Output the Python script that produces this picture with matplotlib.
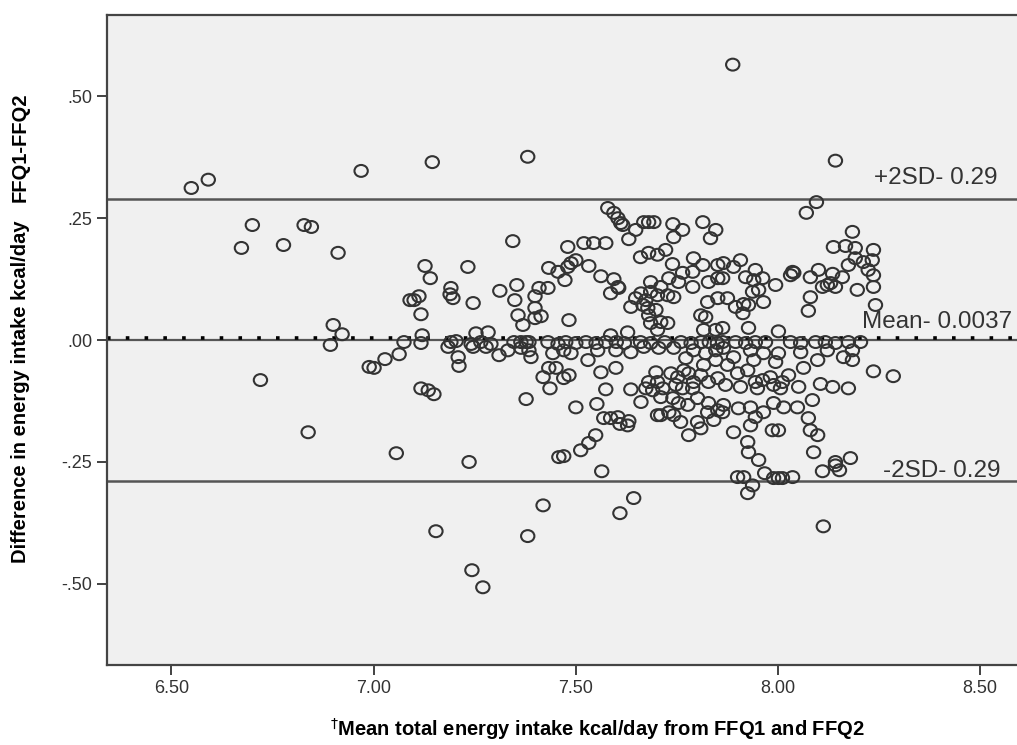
import matplotlib.pyplot as plt
import numpy as np
from matplotlib.path import Path
from matplotlib.transforms import Affine2D

# mean of the two FFQs (x) and their difference (y)
x_mean = [
    6.549, 6.591, 6.969, 6.700, 6.673, 6.777, 6.828, 6.846, 6.912, 7.090,
    6.900, 6.922, 6.893, 6.989, 7.001, 7.028, 7.063, 6.720, 6.838, 7.056,
    7.145, 7.381, 7.344,
    7.579, 7.594, 7.604, 7.611, 7.616, 7.648, 7.631, 7.668, 7.680, 7.693,
    7.740, 7.764, 7.742, 7.814, 7.846, 7.833, 7.480, 7.520, 7.544, 7.574,
    7.888, 8.142, 8.095, 8.070, 8.184, 8.137, 8.167, 8.191, 8.236,
    7.127, 7.140, 7.233, 7.100, 7.112, 7.191, 7.189, 7.196, 7.246, 7.117,
    7.312, 7.354, 7.349, 7.399, 7.409, 7.431, 7.433, 7.456, 7.399, 7.414,
    7.357, 7.369, 7.399, 7.120, 7.253, 7.283,
    7.500, 7.488, 7.480, 7.532, 7.473, 7.562, 7.594, 7.604, 7.586, 7.606,
    7.660, 7.680, 7.702, 7.722, 7.739, 7.685, 7.730, 7.764, 7.789, 7.791,
    7.814, 7.851, 7.754, 7.789, 7.828, 7.851, 7.826, 7.851, 7.636, 7.648,
    7.661, 7.673, 7.666, 7.678, 7.685, 7.702, 7.710, 7.727, 7.742, 7.680,
    7.698, 7.710, 7.727, 7.685, 7.702, 7.483, 7.809, 7.821, 7.816, 7.846,
    7.628, 7.586,
    7.865, 7.890, 7.907, 7.863, 7.920, 7.944, 7.940, 7.962, 7.937, 7.952,
    7.964, 7.875, 7.895, 7.915, 7.927, 7.913, 7.994, 8.031, 8.039, 8.036,
    8.080, 8.100, 8.110, 8.122, 8.130, 8.142, 8.135, 8.159, 8.080, 8.075,
    8.191, 8.174, 8.211, 8.233, 8.223, 8.236, 8.196, 8.236, 8.241, 7.927,
    8.001, 7.863,
    7.184, 7.209, 7.211, 7.246, 7.278, 7.310, 7.332, 7.364, 7.384, 7.389,
    7.443, 7.419, 7.433, 7.451, 7.436, 7.117, 7.135, 7.149, 7.377, 7.236,
    7.458,
    7.470, 7.488, 7.530, 7.554, 7.599, 7.636, 7.668, 7.705, 7.742, 7.772,
    7.791, 7.821, 7.846, 7.846, 7.470, 7.483, 7.562, 7.599, 7.574, 7.636,
    7.500, 7.552, 7.569, 7.586, 7.604, 7.609, 7.631, 7.628, 7.549, 7.532,
    7.512, 7.470, 7.673, 7.680, 7.698, 7.702, 7.715, 7.710, 7.690, 7.661,
    7.735, 7.752, 7.747, 7.767, 7.779, 7.791, 7.809, 7.816, 7.828, 7.851,
    7.740, 7.754, 7.764, 7.789, 7.801, 7.777, 7.702, 7.710, 7.730, 7.742,
    7.759, 7.801, 7.809, 7.779, 7.826, 7.841, 7.851, 7.828,
    7.865, 7.890, 7.875, 7.932, 7.964, 8.001, 7.994, 7.940, 7.925, 7.900,
    7.870, 7.907, 7.944, 7.962, 7.949, 7.981, 7.989, 8.011, 8.026, 8.006,
    8.051, 8.063, 8.056, 8.098, 8.122, 8.162, 8.184, 8.184, 8.236, 8.285,
    8.105, 8.135, 8.174, 8.085, 7.865, 7.863, 7.902, 7.932, 7.964, 7.989,
    8.014, 8.048, 7.944, 7.932, 7.890, 7.925, 7.927, 7.986, 8.001, 8.075,
    8.080, 8.098, 8.088, 7.952, 8.142, 8.179,
    7.564, 7.419, 7.643, 7.609, 7.154, 7.381, 7.243, 7.270, 7.900, 7.915,
    7.967, 7.937, 7.925, 7.989, 8.001, 8.011, 8.036, 8.110, 8.142, 8.152,
    8.112,
    # points sitting on the zero line
    7.075, 7.117, 7.191, 7.204, 7.241, 7.265, 7.290, 7.347, 7.364, 7.377,
    7.384, 7.431, 7.456, 7.475, 7.500, 7.525, 7.550, 7.574, 7.600, 7.620,
    7.660, 7.685, 7.720, 7.760, 7.785, 7.810, 7.830, 7.850, 7.863, 7.895,
    7.920, 7.944, 7.969, 8.031, 8.056, 8.093, 8.117, 8.142, 8.174, 8.204,
]
y_diff = [
    0.312, 0.329, 0.347, 0.236, 0.189, 0.195, 0.236, 0.232, 0.179, 0.082,
    0.031, 0.012, -0.010, -0.055, -0.057, -0.039, -0.029, -0.082, -0.189, -0.232,
    0.365, 0.376, 0.203,
    0.271, 0.261, 0.250, 0.240, 0.236, 0.226, 0.207, 0.242, 0.242, 0.242,
    0.238, 0.226, 0.211, 0.242, 0.226, 0.209, 0.191, 0.199, 0.199, 0.199,
    0.565, 0.368, 0.283, 0.261, 0.222, 0.191, 0.193, 0.189, 0.185,
    0.152, 0.127, 0.150, 0.082, 0.090, 0.107, 0.094, 0.086, 0.076, 0.053,
    0.101, 0.113, 0.082, 0.090, 0.107, 0.107, 0.148, 0.140, 0.066, 0.049,
    0.051, 0.031, 0.045, 0.010, 0.014, 0.016,
    0.164, 0.158, 0.150, 0.152, 0.123, 0.131, 0.125, 0.109, 0.096, 0.107,
    0.170, 0.179, 0.175, 0.185, 0.156, 0.119, 0.127, 0.138, 0.140, 0.168,
    0.154, 0.154, 0.119, 0.109, 0.119, 0.127, 0.078, 0.086, 0.068, 0.086,
    0.096, 0.082, 0.072, 0.066, 0.099, 0.092, 0.109, 0.092, 0.088, 0.051,
    0.062, 0.037, 0.035, 0.035, 0.021, 0.041, 0.051, 0.047, 0.021, 0.021,
    0.016, 0.010,
    0.158, 0.150, 0.164, 0.127, 0.129, 0.144, 0.123, 0.127, 0.099, 0.103,
    0.078, 0.086, 0.068, 0.074, 0.072, 0.055, 0.113, 0.133, 0.138, 0.140,
    0.129, 0.144, 0.109, 0.113, 0.117, 0.109, 0.136, 0.129, 0.088, 0.060,
    0.168, 0.154, 0.160, 0.164, 0.144, 0.133, 0.103, 0.109, 0.072, 0.025,
    0.018, 0.025,
    -0.014, -0.035, -0.053, -0.014, -0.014, -0.031, -0.021, -0.016, -0.021, -0.035,
    -0.027, -0.076, -0.057, -0.057, -0.099, -0.099, -0.103, -0.111, -0.121, -0.250,
    -0.240,
    -0.021, -0.027, -0.041, -0.021, -0.021, -0.025, -0.014, -0.016, -0.016, -0.037,
    -0.021, -0.027, -0.021, -0.041, -0.078, -0.072, -0.066, -0.057, -0.101, -0.101,
    -0.138, -0.131, -0.160, -0.160, -0.158, -0.172, -0.166, -0.175, -0.195, -0.211,
    -0.226, -0.238, -0.099, -0.086, -0.066, -0.086, -0.099, -0.117, -0.103, -0.127,
    -0.068, -0.076, -0.092, -0.062, -0.068, -0.086, -0.072, -0.051, -0.086, -0.078,
    -0.119, -0.129, -0.099, -0.099, -0.119, -0.133, -0.154, -0.154, -0.148, -0.154,
    -0.168, -0.168, -0.181, -0.195, -0.148, -0.164, -0.144, -0.129,
    -0.016, -0.035, -0.051, -0.021, -0.027, -0.027, -0.045, -0.041, -0.062, -0.068,
    -0.092, -0.096, -0.086, -0.082, -0.099, -0.076, -0.092, -0.086, -0.072, -0.099,
    -0.096, -0.057, -0.025, -0.041, -0.021, -0.035, -0.021, -0.041, -0.064, -0.074,
    -0.090, -0.096, -0.099, -0.123, -0.133, -0.148, -0.140, -0.138, -0.148, -0.129,
    -0.138, -0.138, -0.158, -0.175, -0.189, -0.209, -0.230, -0.185, -0.185, -0.160,
    -0.185, -0.195, -0.230, -0.246, -0.250, -0.242,
    -0.269, -0.339, -0.324, -0.355, -0.392, -0.402, -0.472, -0.507, -0.281, -0.281,
    -0.273, -0.298, -0.314, -0.283, -0.283, -0.283, -0.281, -0.269, -0.257, -0.267,
    -0.382,
    -0.004, -0.006, -0.004, -0.002, -0.008, -0.004, -0.008, -0.004, -0.004, -0.004,
    -0.004, -0.004, -0.008, -0.004, -0.006, -0.004, -0.006, -0.004, -0.004, -0.006,
    -0.004, -0.006, -0.004, -0.004, -0.006, -0.004, -0.004, -0.006, -0.004, -0.004,
    -0.006, -0.004, -0.004, -0.004, -0.006, -0.004, -0.004, -0.006, -0.004, -0.004,
]

mean_diff = 0.0037
upper_sd = 0.29
lower_sd = -0.29

x_ticks = [6.5, 7.0, 7.5, 8.0, 8.5]
x_ticklabels = ['6.50', '7.00', '7.50', '8.00', '8.50']
y_ticks = [0.5, 0.25, 0.0, -0.25, -0.5]
y_ticklabels = ['.50', '.25', '.00', '-.25', '-.50']

plt.rcParams['font.family'] = ['Liberation Sans', 'DejaVu Sans']

fig = plt.figure(figsize=(10.17, 7.45), dpi=100)
ax = fig.add_axes([0.105, 0.107, 0.895, 0.873])
ax.set_facecolor('#f0f0f0')

# slightly wide open circle, like the SPSS marker
ellipse = Path.unit_circle().transformed(Affine2D().scale(1.12, 1.0))

ax.axhline(0.0, color='#555555', lw=1.6, zorder=1)
ax.axhline(mean_diff, color='black', lw=2.6, ls=(0, (1.0, 4.2)), zorder=2)
ax.axhline(upper_sd, color='#555555', lw=1.8, zorder=1)
ax.axhline(lower_sd, color='#555555', lw=1.8, zorder=1)

ax.scatter(x_mean, y_diff, marker=ellipse, s=92, facecolors='none',
           edgecolors='#333333', linewidths=1.5, zorder=3)

ax.text(8.238, 0.333, '+2SD- 0.29', fontsize=17.5, color='#333333', va='center')
ax.text(8.579, 0.037, 'Mean- 0.0037', fontsize=17.5, color='#333333',
        va='center', ha='right')
ax.text(8.26, -0.269, '-2SD- 0.29', fontsize=17.5, color='#333333', va='center')

ax.set_xlim(6.34, 8.591)
ax.set_ylim(-0.667, 0.667)
ax.set_xticks(x_ticks)
ax.set_xticklabels(x_ticklabels)
ax.set_yticks(y_ticks)
ax.set_yticklabels(y_ticklabels)
ax.tick_params(axis='both', labelsize=13, colors='#333333', length=7, width=1.3)

for side in ['left', 'top', 'bottom']:
    ax.spines[side].set_color('#444444')
    ax.spines[side].set_linewidth(1.6)
ax.spines['right'].set_visible(False)

fig.text(0.587, 0.022, r'$^{\dagger}$Mean total energy intake kcal/day from FFQ1 and FFQ2',
         ha='center', va='center', fontsize=14.5, fontweight='bold')
fig.text(0.02, 0.474, 'Difference in energy intake kcal/day', rotation=90,
         ha='center', va='center', fontsize=14.5, fontweight='bold')
fig.text(0.02, 0.803, 'FFQ1-FFQ2', rotation=90,
         ha='center', va='center', fontsize=14.5, fontweight='bold')

plt.savefig('out.png', dpi=100)
